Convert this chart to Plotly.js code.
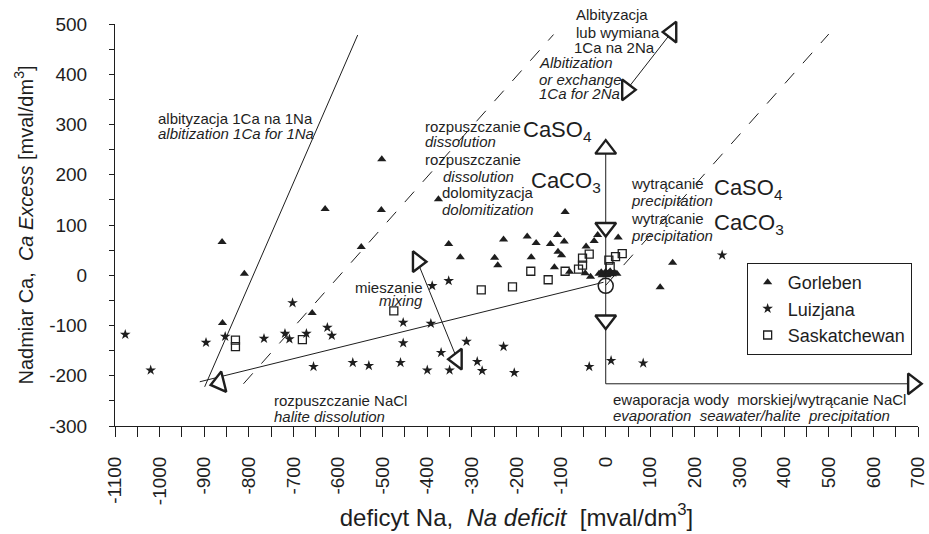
<!DOCTYPE html>
<html>
<head>
<meta charset="utf-8">
<script src="https://cdn.plot.ly/plotly-3.0.1.min.js"></script>
<style>
  html, body { margin: 0; padding: 0; background: #fff; }
  #chart { width: 929px; height: 534px; }
</style>
</head>
<body>
<div id="chart"></div>
<script>
// Sample groups: Na deficit (x) vs Ca excess (y), mval/dm3
const gorlebenX = [-860, -810, -859, -629, -658, -548, -502, -503, -375, -352, -326, -229, -249, -242,
  -176, -156, -91, -167, -124, -108, -93, -107, -99, -115, -81, -44, -26, -18, 28, -46, -34,
  -15, -10, -5, 0, 3, 6, 10, 15, 20, -8, 25, 150, 122];
const gorlebenY = [66, 3, -95, 132, -75, 56, 231, 130, 151, 62, 36, 71, 35, 20,
  77, 64, 126, 36, 62, 80, 67, 47, 40, 16, 7, 57, 68, 80, 75, 4, -3,
  3, 6, 2, 7, 0, 4, 8, 2, 5, 0, 3, 25, -24];

const luizjanaX = [-1077, -1020, -896, -853, -766, -702, -719, -709, -671, -624, -614, -655, -567, -531,
  -389, -352, -454, -392, -454, -369, -312, -229, -460, -400, -350, -288, -277, -205, -37, 12, 84, 261];
const luizjanaY = [-118, -189, -134, -122, -126, -55, -116, -127, -116, -104, -120, -182, -174, -180,
  -21, -11, -94, -96, -135, -154, -132, -142, -174, -189, -189, -172, -190, -194, -182, -170, -175, 40];

const saskX = [-830, -830, -680, -475, -279, -209, -168, -129, -91, -61, -52, -52, -37, 7, 22, 37, 10];
const saskY = [-129, -142, -128, -71, -29, -23, 8, -9, 8, 12, 20, 34, 42, 30, 37, 43, 17];

// Axis ticks (labels use a plain hyphen for negatives)
const xTickVals = [-1100, -1000, -900, -800, -700, -600, -500, -400, -300, -200, -100, 0, 100, 200, 300, 400, 500, 600, 700];
const xTickText = ['-1100', '-1000', '-900', '-800', '-700', '-600', '-500', '-400', '-300', '-200', '-100', '0', '100', '200', '300', '400', '500', '600', '700'];
const yTickVals = [-300, -200, -100, 0, 100, 200, 300, 400, 500];
const yTickText = ['-300', '-200', '-100', '0', '100', '200', '300', '400', '500'];

// Process trend lines
const albit11X = [-899, -556], albit11Y = [-222, 478];
const dashAX = [-812, -117], dashAY = [-216, 479];
const dashBX = [0, 500], dashBY = [-20, 480];
const haliteX = [-910, -5], haliteY = [-212, -14];
const mixX = [-422, -333], mixY = [27, -167];
const exchX = [148, 47], exchY = [484, 369];
const evapX = [0, 0, 688], evapY = [251, -216, -216];

// Arrowheads and the seawater point
const headX = [-866, -422, -333, 148, 47, 0, 0, 0, 688];
const headY = [-214, 27, -167, 484, 369, 251, 95, -89, -216];
const headSymbol = ['triangle-left', 'triangle-right', 'triangle-left', 'triangle-left', 'triangle-right',
  'triangle-up', 'triangle-down', 'triangle-down', 'triangle-right'];
const headAngle = [-14, 0, 0, 0, 0, 0, 0, 0, 0];
const seawaterX = [0], seawaterY = [-21];

const INK = '#1e1e1e';
const FONT = 'Liberation Sans, Arial, sans-serif';

function guide(x, y, dash) {
  return { x: x, y: y, mode: 'lines', type: 'scatter', showlegend: false, hoverinfo: 'skip',
    line: { color: INK, width: 1, dash: dash || 'solid' }, cliponaxis: false };
}

const traces = [
  guide(albit11X, albit11Y),
  guide(dashAX, dashAY, '14px,13px'),
  guide(dashBX, dashBY, '14px,13px'),
  guide(haliteX, haliteY),
  guide(mixX, mixY),
  guide(exchX, exchY),
  guide(evapX, evapY),
  { x: gorlebenX, y: gorlebenY, name: 'Gorleben', mode: 'markers', type: 'scatter',
    marker: { symbol: 'triangle-up', size: 8, color: INK } },
  { x: luizjanaX, y: luizjanaY, name: 'Luizjana', mode: 'markers', type: 'scatter',
    marker: { symbol: 'star', size: 8, color: INK } },
  { x: saskX, y: saskY, name: 'Saskatchewan', mode: 'markers', type: 'scatter',
    marker: { symbol: 'square-open', size: 8, color: INK, line: { width: 1.3 } } },
  { x: seawaterX, y: seawaterY, mode: 'markers', type: 'scatter', showlegend: false, hoverinfo: 'skip',
    marker: { symbol: 'circle-open', size: 15, color: INK, line: { width: 1.5 } } },
  { x: headX, y: headY, mode: 'markers', type: 'scatter', showlegend: false, hoverinfo: 'skip',
    cliponaxis: false,
    marker: { symbol: headSymbol, angle: headAngle, size: 18, color: '#fff',
      line: { color: INK, width: 2.4 } } }
];

function label(x, y, text, size, anchor, yref) {
  return { x: x, y: y, xref: 'x', yref: yref || 'y', text: text, showarrow: false,
    xanchor: anchor || 'left', yanchor: 'middle',
    font: { family: FONT, size: size || 15, color: INK } };
}

const annotations = [
  label(-1007, 312, 'albityzacja 1Ca na 1Na'),
  label(-1007, 282, '<i>albitization 1Ca for 1Na</i>'),
  label(-410, 296, 'rozpuszczanie'),
  label(-191, 287, 'CaSO<sub>4</sub>', 22),
  label(-410, 266, '<i>dissolution</i>'),
  label(-410, 230, 'rozpuszczanie'),
  label(-370, 197, '<i>dissolution</i>'),
  label(-173, 186, 'CaCO<sub>3</sub>', 22),
  label(-372, 164, 'dolomityzacja'),
  label(-372, 131, '<i>dolomitization</i>'),
  label(-72, 1.0224, 'Albityzacja', 15, 'left', 'paper'),
  label(-72, 483, 'lub wymiana'),
  label(-76, 453, '1Ca na 2Na'),
  label(-155, 423, '<i>Albitization</i>'),
  label(-155, 390, '<i>or exchange</i>'),
  label(-155, 361, '<i>1Ca for 2Na</i>'),
  label(52, 183, 'wytrącanie'),
  label(238, 172, 'CaSO<sub>4</sub>', 22),
  label(52, 148, '<i>precipitation</i>'),
  label(52, 113, 'wytrącanie'),
  label(238, 102, 'CaCO<sub>3</sub>', 22),
  label(52, 80, '<i>precipitation</i>'),
  label(-404, -25, 'mieszanie', 15, 'right'),
  label(-404, -51, '<i>mixing</i>', 15, 'right'),
  label(-749, -250, 'rozpuszczanie NaCl'),
  label(-749, -282, '<i>halite dissolution</i>'),
  label(11, -248, 'ewaporacja wody\u00a0 morskiej/wytrącanie NaCl'),
  label(11, -280, '<i>evaporation\u00a0 seawater/halite\u00a0 precipitation</i>')
];

const layout = {
  width: 929, height: 534,
  margin: { l: 115, r: 11, t: 24, b: 108 },
  paper_bgcolor: '#fff', plot_bgcolor: '#fff',
  font: { family: FONT, color: INK },
  showlegend: true,
  legend: {
    x: 0.7866, y: 0.4055, xanchor: 'left', yanchor: 'top',
    bordercolor: INK, borderwidth: 1, bgcolor: '#fff',
    font: { family: FONT, size: 18, color: INK }
  },
  xaxis: {
    range: [-1100, 700], tickmode: 'array', tickvals: xTickVals, ticktext: xTickText,
    showgrid: false, zeroline: false, showline: true, linecolor: INK, linewidth: 1,
    ticks: 'outside', ticklen: 10, tickcolor: INK, tickangle: -90,
    ticklabelstandoff: 12,
    minor: { dtick: 50, tick0: 0, ticks: 'outside', ticklen: 10, tickcolor: INK },
    tickfont: { family: FONT, size: 19, color: INK },
    title: { text: 'deficyt Na,\u00a0 <i>Na deficit</i>\u00a0 [mval/dm<sup>3</sup>]',
      font: { family: FONT, size: 24, color: INK }, standoff: 4 }
  },
  yaxis: {
    range: [-300, 500], tickmode: 'array', tickvals: yTickVals, ticktext: yTickText,
    showgrid: false, zeroline: false, showline: true, linecolor: INK, linewidth: 1,
    ticks: 'outside', ticklen: 5, tickcolor: INK,
    ticklabelstandoff: 18,
    minor: { dtick: 50, tick0: 0, ticks: 'outside', ticklen: 5, tickcolor: INK },
    tickfont: { family: FONT, size: 19, color: INK },
    title: { text: 'Nadmiar Ca,\u00a0 <i>Ca Excess</i> [mval/dm<sup>3</sup>]',
      font: { family: FONT, size: 20, color: INK }, standoff: 10 }
  },
  annotations: annotations
};

Plotly.newPlot('chart', traces, layout, { displayModeBar: false, staticPlot: true });
</script>
</body>
</html>
